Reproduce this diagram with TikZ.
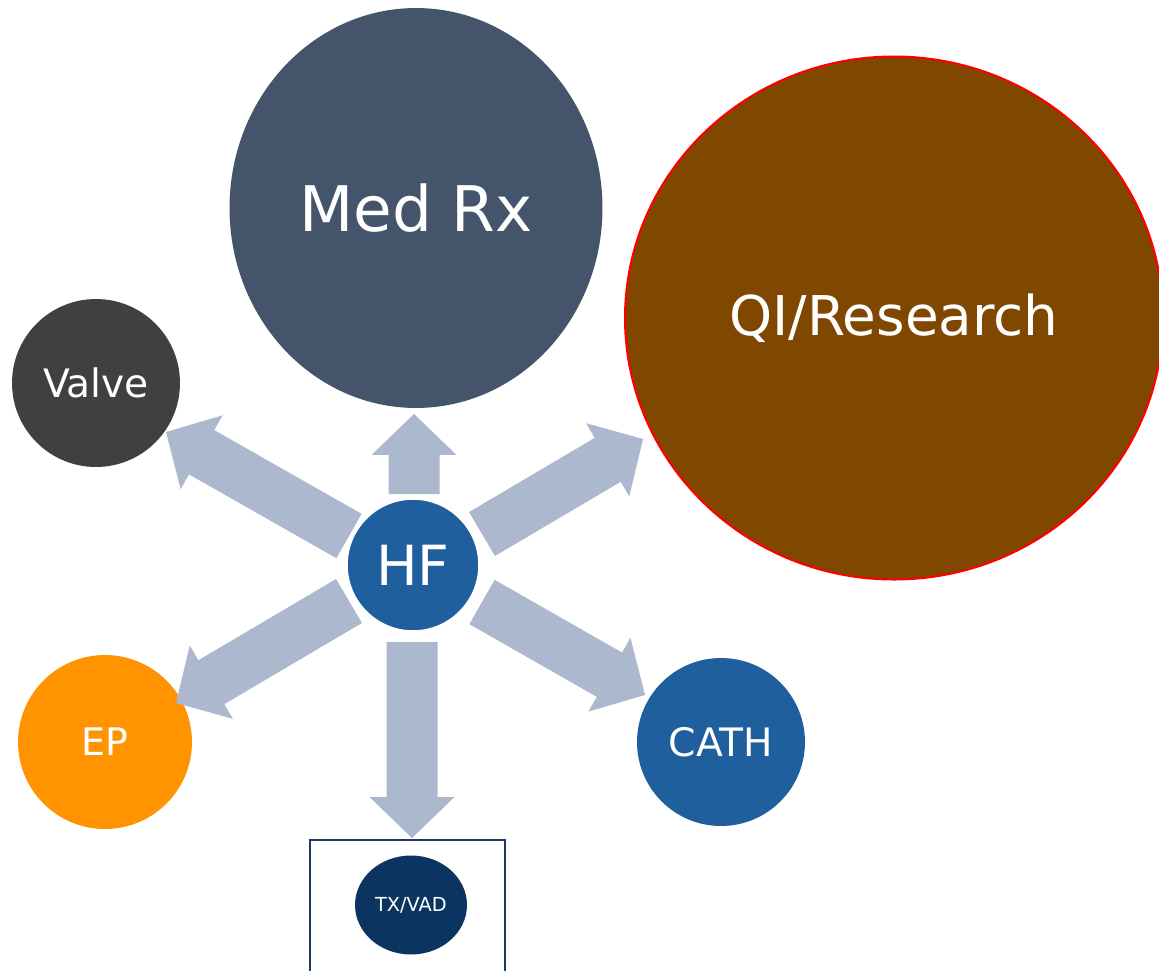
\documentclass[tikz,border=0pt]{standalone}
\usepackage{fontspec}
\setmainfont{DejaVu Sans}
\usetikzlibrary{calc,shapes.geometric}

\definecolor{medrx}{HTML}{44546A}
\definecolor{qibrown}{HTML}{7F4700}
\definecolor{hfblue}{HTML}{1F5F9E}
\definecolor{valvegray}{HTML}{404040}
\definecolor{eporange}{HTML}{FF9300}
\definecolor{txnavy}{HTML}{0B3460}
\definecolor{boxline}{HTML}{1F3864}
\definecolor{arrowfill}{HTML}{ABB8CD}

% block arrow from tail coordinate #1 to tip coordinate #2
\newcommand\hfarrow[2]{%
  \coordinate (hb) at ($(#2)!0.82cm!(#1)$);
  \fill[arrowfill]
    ($(#1)!0.51cm!90:(#2)$) -- ($(hb)!0.51cm!90:(#2)$) --
    ($(hb)!0.85cm!90:(#2)$) -- (#2) --
    ($(hb)!0.85cm!-90:(#2)$) -- ($(hb)!0.51cm!-90:(#2)$) --
    ($(#1)!0.51cm!-90:(#2)$) -- cycle;
}

\begin{document}
\begin{tikzpicture}[x=0.02cm,y=-0.02cm,
  bubble/.style={circle,inner sep=0pt,text=white,align=center},
  oval/.style={ellipse,inner sep=0pt,text=white,align=center}]
\clip (0,0) rectangle (1159,970);
\fill[white] (0,0) rectangle (1159,970);

% topic bubbles
\node[oval,fill=medrx,minimum width=7.46cm,minimum height=8cm,
      font=\fontsize{35.8}{40}\selectfont] (med) at (416,208) {Med Rx};
\node[oval,fill=qibrown,draw=red,line width=1.2pt,minimum width=10.76cm,minimum height=10.46cm,
      font=\fontsize{31.2}{36}\selectfont] (qi) at (894,318) {QI/Research};
\node[bubble,fill=valvegray,minimum size=3.36cm,
      font=\fontsize{22.3}{26}\selectfont] (valve) at (96,383) {Valve};
\node[bubble,fill=eporange,minimum size=3.48cm,
      font=\fontsize{21.6}{26}\selectfont] (ep) at (105,742) {EP};
\node[bubble,fill=hfblue,minimum size=3.36cm,
      font=\fontsize{22.3}{26}\selectfont] (cath) at (721,742) {CATH};

% transplant / VAD panel
\draw[boxline,line width=1.2pt] (310,840) rectangle (505,985);
\node[oval,fill=txnavy,minimum width=2.24cm,minimum height=1.98cm,
      font=\fontsize{11}{13}\selectfont] (tx) at (411,905) {TX/VAD};

% arrow tails and tips
\coordinate (up-t) at (414,494);  \coordinate (up-h) at (414,414);
\coordinate (dn-t) at (412,642);  \coordinate (dn-h) at (412,838);
\coordinate (ur-t) at (482,534);  \coordinate (ur-h) at (643,439);
\coordinate (lr-t) at (482,602);  \coordinate (lr-h) at (645,695);
\coordinate (ul-t) at (349,536);  \coordinate (ul-h) at (166,432);
\coordinate (ll-t) at (349,601);  \coordinate (ll-h) at (176,703);

\hfarrow{up-t}{up-h}
\hfarrow{dn-t}{dn-h}
\hfarrow{ur-t}{ur-h}
\hfarrow{lr-t}{lr-h}
\hfarrow{ul-t}{ul-h}
\hfarrow{ll-t}{ll-h}

% hub
\node[bubble,fill=hfblue,draw=white,line width=2pt,minimum size=2.68cm,
      font=\fontsize{31.5}{36}\selectfont] (hf) at (413,565) {HF};
\end{tikzpicture}
\end{document}
